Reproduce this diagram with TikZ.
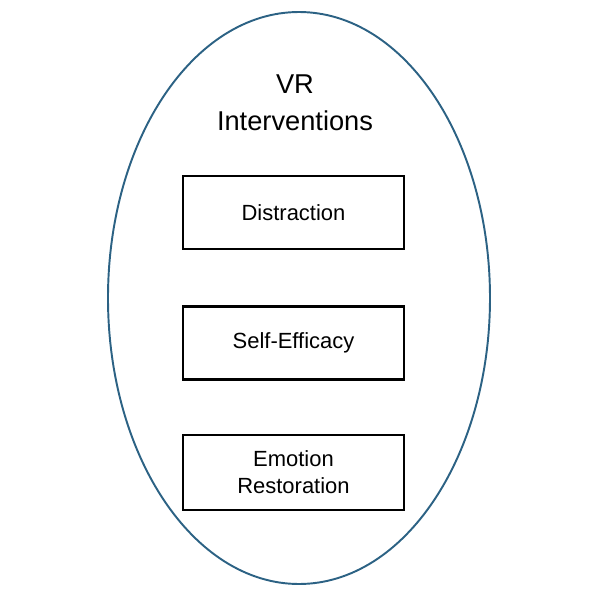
\documentclass[tikz,border=0pt]{standalone}
\usepackage{fontspec}
\setmainfont{Liberation Sans}
\usepackage{tikz}
\usetikzlibrary{positioning}
\definecolor{vrblue}{RGB}{44, 98, 132}
\tikzset{
    factor/.style={rectangle, draw=black, line width=1.4pt, fill=white, minimum width=4.42cm, minimum height=1.46cm, align=center, font=\fontsize{12.5}{15.3}\selectfont, inner sep=2pt}
}

\begin{document}
\begin{tikzpicture}
    \useasboundingbox (-6,-6) rectangle (6,6);
    % --- OUTER ELLIPSE ---
    \draw[vrblue, line width=1.1pt] (-0.02, 0.04) ellipse (3.82cm and 5.72cm);

    % --- TITLE ---
    \node[align=center, font=\fontsize{15.5}{21}\selectfont] (title) at (-0.1, 3.94) {VR\\Interventions};

    % --- FACTORS ---
    \node[factor] (distraction) at (-0.13, 1.75) {Distraction};
    \node[factor] (efficacy) at (-0.13, -0.86) {Self-Efficacy};
    \node[factor, minimum height=1.5cm] (emotion) at (-0.13, -3.45) {Emotion\\Restoration};

\end{tikzpicture}
\end{document}
